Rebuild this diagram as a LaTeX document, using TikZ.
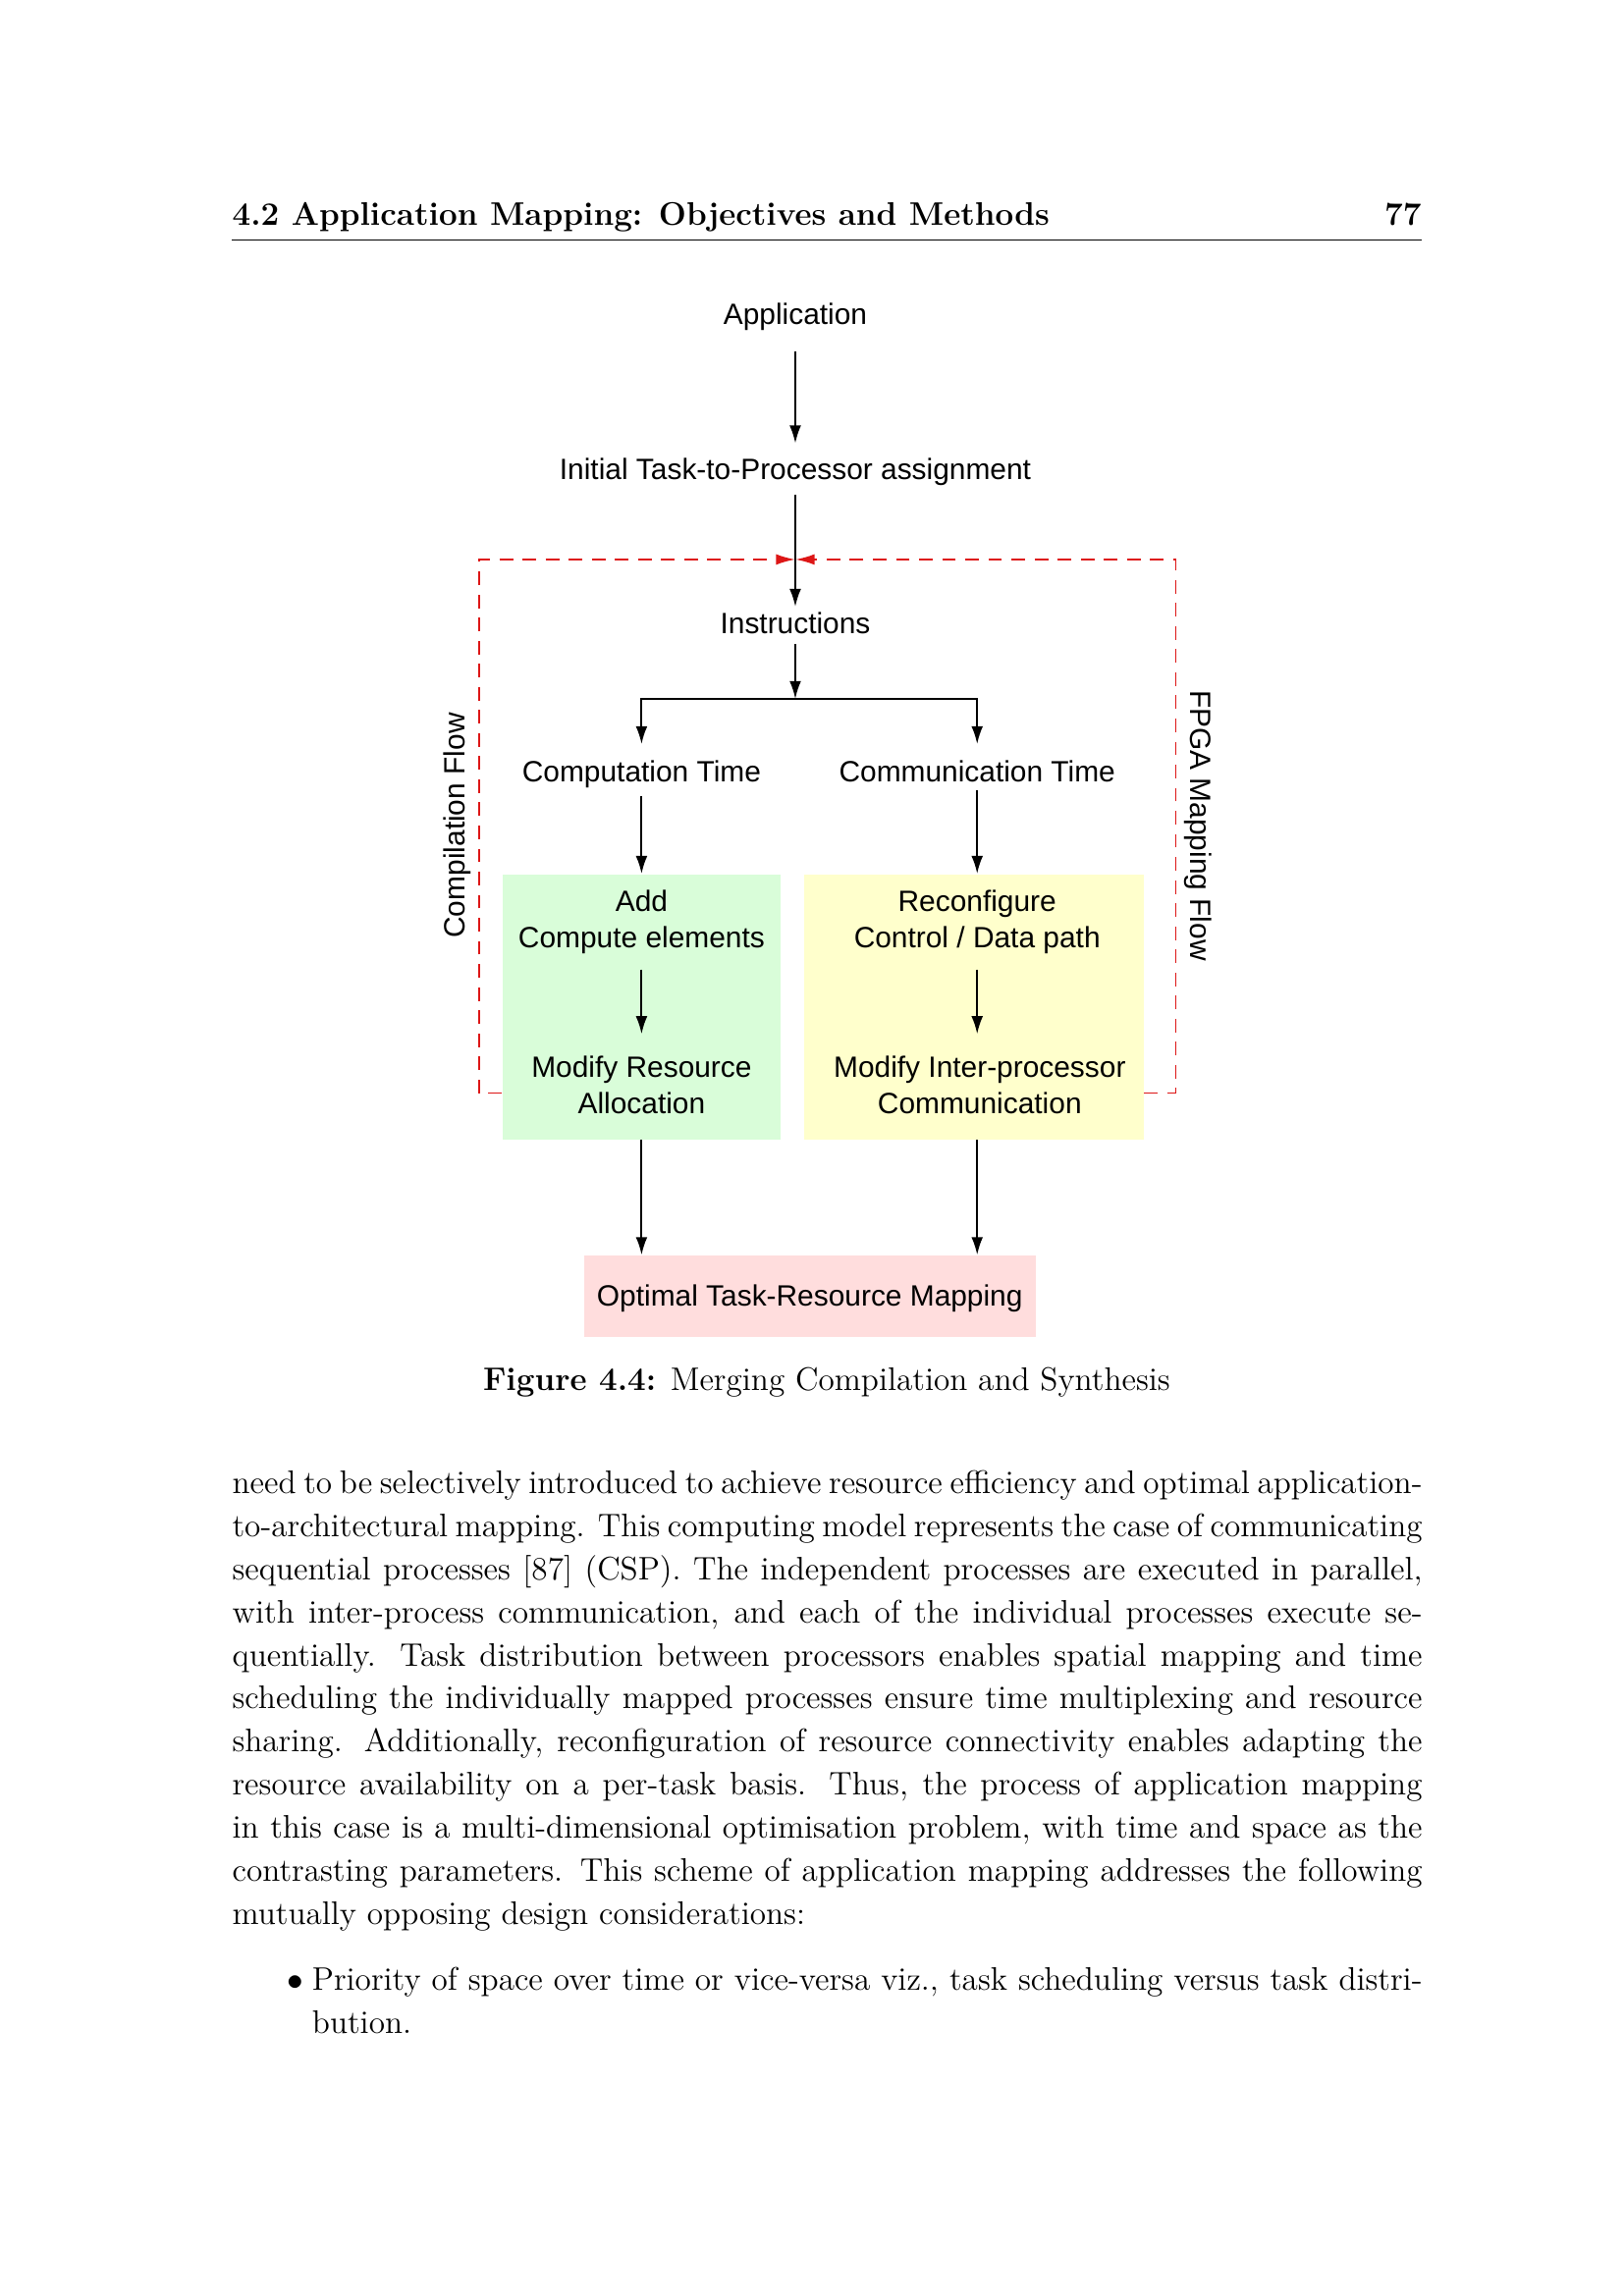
\documentclass[tikz,border=0pt]{standalone}
\usepackage{fontspec}
\usetikzlibrary{arrows.meta}
\newfontfamily\diagfont{Liberation Sans}

\definecolor{compgreen}{HTML}{D9FDD9}
\definecolor{confyellow}{HTML}{FFFFCC}
\definecolor{mappink}{HTML}{FFDDDD}
\definecolor{flowred}{HTML}{DD1616}

\tikzset{
  lbl/.style={inner sep=0pt, font=\diagfont\fontsize{10.8}{13.3}\selectfont, align=center},
  arr/.style={line width=0.7pt, -{Latex[length=2.3mm,width=1.5mm]}},
  flow/.style={flowred, line width=0.7pt, dash pattern=on 5pt off 3.5pt, -{Latex[length=2.5mm,width=1.4mm]}},
  panel/.style={inner sep=0pt, draw=none},
  page/.style={inner sep=0pt, font=\fontsize{12}{15.85}\selectfont},
}

\begin{document}
\begin{tikzpicture}
\useasboundingbox (0,0) rectangle (21,-29.7);

% running head
\node[page, anchor=base west, font=\bfseries\fontsize{12}{14}\selectfont] (head) at (2.997,-2.92) {4.2 Application Mapping: Objectives and Methods};
\node[page, anchor=base east, font=\bfseries\fontsize{12}{14}\selectfont] (pageno) at (18.387,-2.92) {77};
\draw [line width=0.4pt] (2.997,-3.11) -- (18.387,-3.11);

% flow
\node[lbl, anchor=base] (app) at (10.285,-4.2) {Application};
\node[lbl, anchor=base] (init) at (10.285,-6.206) {Initial Task-to-Processor assignment};
\node[lbl, anchor=base] (instr) at (10.285,-8.2) {Instructions};
\coordinate (merge) at (10.285,-7.237);
\coordinate (split) at (10.285,-9.04);

\node[lbl, anchor=base] (comptime) at (8.297,-10.117) {Computation Time};
\node[lbl, anchor=base] (commtime) at (12.637,-10.117) {Communication Time};

\node[panel, fill=compgreen, minimum width=3.595cm, minimum height=3.428cm] (cbox) at (8.297,-13.023) {};
\node[panel, fill=confyellow, minimum width=4.392cm, minimum height=3.428cm] (rbox) at (12.592,-13.023) {};

\node[lbl] (add) at (8.297,-11.923) {Add\\Compute elements};
\node[lbl] (reconf) at (12.637,-11.923) {Reconfigure\\Control / Data path};
\node[lbl] (modres) at (8.297,-14.03) {Modify Resource\\Allocation};
\node[lbl] (modcomm) at (12.67,-14.03) {Modify Inter-processor\\Communication};

\node[panel, lbl, fill=mappink, minimum width=5.835cm, minimum height=1.05cm, text height=0.31cm, text depth=0.06cm] (opt) at (10.4725,-16.765) {Optimal Task-Resource Mapping};

\node[lbl, rotate=90] (compflow) at (5.92,-10.678) {Compilation Flow};
\node[lbl, rotate=-90] (fpgaflow) at (15.49,-10.678) {FPGA Mapping Flow};

\draw[arr, shorten <=0.26cm, shorten >=0.19cm] (app) -- (init);
\draw[arr, shorten <=0.11cm, shorten >=0.07cm] (init) -- (instr);
\draw[arr, shorten <=0.125cm] (instr) -- (split);
\draw[arr, shorten >=0.21cm] (split) -| (comptime);
\draw[arr, shorten >=0.21cm] (split) -| (commtime);
\draw[arr, shorten <=0.1cm] (comptime) -- (comptime |- cbox.north);
\draw[arr, shorten <=0.1cm] (commtime) -- (commtime |- rbox.north);
\draw[arr, shorten <=0.2cm, shorten >=0.275cm] (add) -- (add |- modres.north);
\draw[arr, shorten <=0.2cm, shorten >=0.275cm] (reconf) -- (reconf |- modcomm.north);
\draw[arr] (add |- cbox.south) -- (add |- opt.north);
\draw[arr] (reconf |- rbox.south) -- (reconf |- opt.north);

% feedback
\draw[flow] ([yshift=0.605cm]cbox.south west) -- ++(-0.3,0) |- (merge);
\draw[flow] ([yshift=0.605cm]rbox.south east) -- ++(0.41,0) |- (merge);

% caption and text
\node[page, anchor=base] (caption) at (10.69,-17.988) {\textbf{Figure 4.4:} Merging Compilation and Synthesis};

\node[page, anchor=base west, text width=15.39cm, align=justify] (body) at (2.997,-19.32) {need to be selectively introduced to achieve resource efficiency and optimal application-\linebreak to-architectural mapping. This computing model represents the case of communicating\linebreak sequential processes [87] (CSP). The independent processes are executed in parallel,\linebreak with inter-process communication, and each of the individual processes execute se-\linebreak quentially.  Task distribution between processors enables spatial mapping and time\linebreak scheduling the individually mapped processes ensure time multiplexing and resource\linebreak sharing.  Additionally, reconfiguration of resource connectivity enables adapting the\linebreak resource availability on a per-task basis.  Thus, the process of application mapping\linebreak in this case is a multi-dimensional optimisation problem, with time and space as the\linebreak contrasting parameters. This scheme of application mapping addresses the following\linebreak mutually opposing design considerations:};

\node[page, anchor=base west] (dot) at (3.71,-25.74) {$\bullet$};
\node[page, anchor=base west, text width=14.357cm, align=justify] (item) at (4.03,-25.74) {Priority of space over time or vice-versa viz., task scheduling versus task distri-\linebreak bution.};

\end{tikzpicture}
\end{document}
